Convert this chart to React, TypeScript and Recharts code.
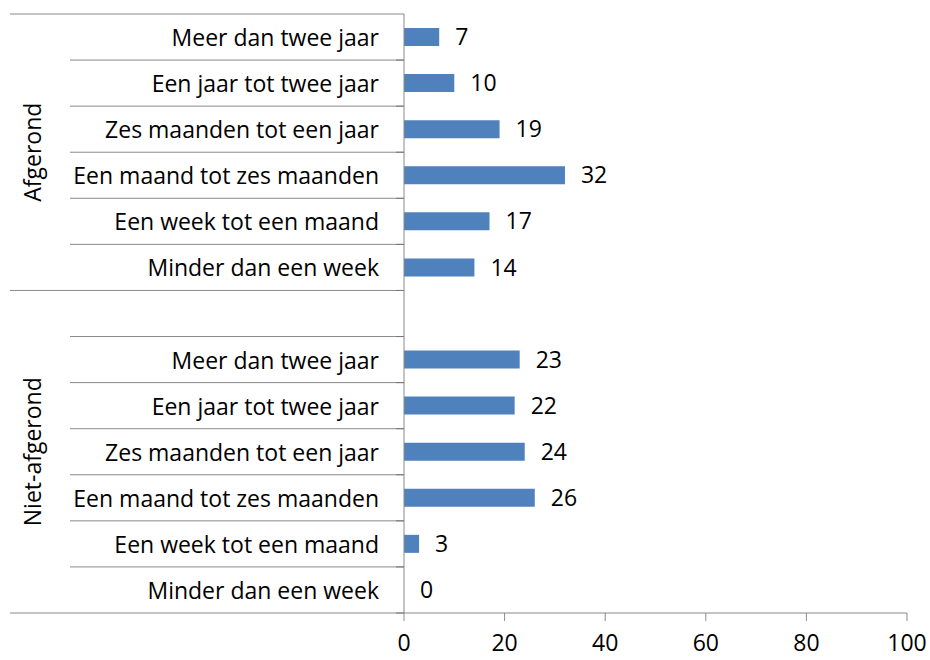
import React from "react";
import { Bar, BarChart, LabelList, XAxis, YAxis } from "recharts";

// rows top to bottom; the empty one is the spacer that belongs to the second group
const categories = [
  "Meer dan twee jaar",
  "Een jaar tot twee jaar",
  "Zes maanden tot een jaar",
  "Een maand tot zes maanden",
  "Een week tot een maand",
  "Minder dan een week",
  "",
  "Meer dan twee jaar",
  "Een jaar tot twee jaar",
  "Zes maanden tot een jaar",
  "Een maand tot zes maanden",
  "Een week tot een maand",
  "Minder dan een week",
];
const values = [7, 10, 19, 32, 17, 14, null, 23, 22, 24, 26, 3, 0];
const groupNames = ["Afgerond", "Niet-afgerond"];
const groupSizes = [6, 7];
const xTicks = [0, 20, 40, 60, 80, 100];

const data = categories.map((name, i) => ({ idx: i, name, value: values[i] }));

const W = 930;
const H = 660;
const xAxisHeight = 30;
const margin = { top: 14, right: 23, bottom: 47 - xAxisHeight, left: 10 };
const yAxisWidth = 394;
const plotH = H - margin.top - margin.bottom - xAxisHeight;
const rowH = plotH / categories.length;
const axisX = margin.left + yAxisWidth;
const FONT = "'Open Sans', Lato, sans-serif";
const FS = 23;
const LINE = "#8a8a8a";

const groupStarts = groupSizes.map((_, g) => groupSizes.slice(0, g).reduce((a, b) => a + b, 0));

function CategoryTick(props: any) {
  const { y, payload } = props;
  const i = Number(payload.value);
  const top = y - rowH / 2;
  const bottom = y + rowH / 2;
  const longBottom = groupStarts.includes(i + 1) || i + 1 === categories.length;
  const g = groupStarts.indexOf(i);
  const gy = top + (groupSizes[g] * rowH) / 2;
  return (
    <g>
      {i === 0 && <line x1={10} x2={axisX} y1={top} y2={top} stroke={LINE} />}
      <line x1={longBottom ? 10 : 70} x2={axisX} y1={bottom} y2={bottom} stroke={LINE} />
      <line x1={axisX - 8} x2={axisX} y1={bottom} y2={bottom} stroke="#777" />
      <text
        x={axisX - 25}
        y={y}
        textAnchor="end"
        dominantBaseline="central"
        fontFamily={FONT}
        fontSize={FS}
        fill="#000"
      >
        {categories[i]}
      </text>
      {g >= 0 && (
        <text
          x={32}
          y={gy}
          transform={`rotate(-90, 32, ${gy})`}
          textAnchor="middle"
          dominantBaseline="central"
          fontFamily={FONT}
          fontSize={FS}
          fill="#000"
        >
          {groupNames[g]}
        </text>
      )}
    </g>
  );
}

export default function App() {
  return (
    <div style={{ position: "absolute", left: 0, top: 0, background: "#fff" }}>
      <BarChart width={W} height={H} data={data} layout="vertical" margin={margin}>
        <XAxis
          type="number"
          domain={[0, 100]}
          ticks={xTicks}
          height={xAxisHeight}
          axisLine={{ stroke: LINE }}
          tickLine={{ stroke: LINE }}
          tickSize={8}
          tickMargin={14}
          tick={{ fill: "#000", fontSize: FS, fontFamily: FONT }}
        />
        <YAxis
          type="category"
          dataKey="idx"
          width={yAxisWidth}
          interval={0}
          axisLine={{ stroke: LINE }}
          tickLine={false}
          tick={<CategoryTick />}
        />
        <Bar
          dataKey="value"
          fill="#4F81BD"
          barSize={18}
          minPointSize={0.01}
          isAnimationActive={false}
        >
          <LabelList
            dataKey="value"
            position="right"
            offset={16}
            fill="#000"
            fontSize={FS}
            fontFamily={FONT}
            formatter={(v: any) => (v == null ? "" : String(v))}
          />
        </Bar>
      </BarChart>
    </div>
  );
}
